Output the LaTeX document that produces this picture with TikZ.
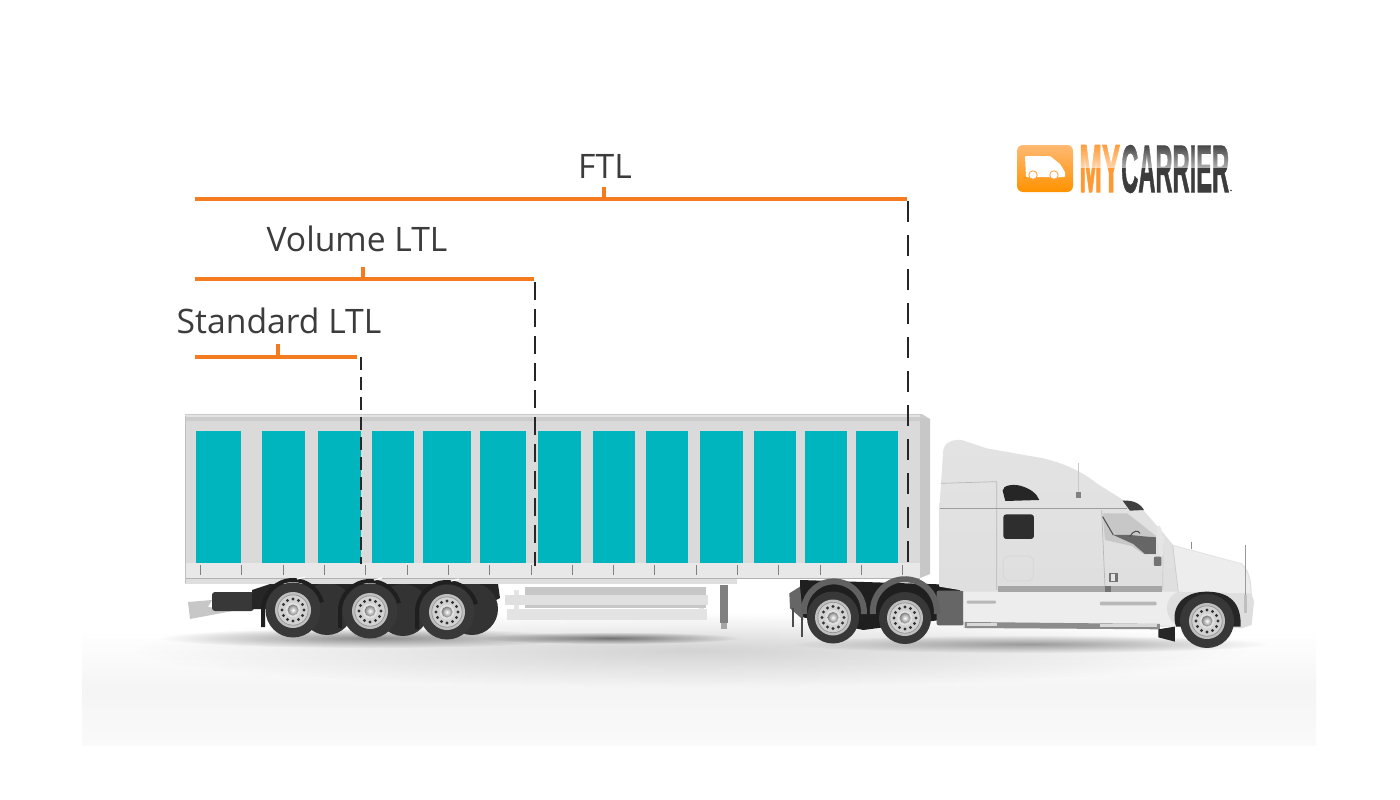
\documentclass[tikz,border=0pt]{standalone}
\usepackage{fontspec}
\usepackage{graphicx}
\setmainfont{Open Sans}
\usetikzlibrary{fadings}
\definecolor{brandorange}{HTML}{F47B20}
\definecolor{panelteal}{HTML}{00B5BD}
\definecolor{labelgrey}{HTML}{3C3C3C}
\definecolor{trailerbody}{HTML}{DADADA}
\tikzfading[name=softfade,inner color=transparent!0,outer color=transparent!100]
\tikzset{
  spanline/.style={draw=brandorange,line width=4pt},
  limitline/.style={draw=black!85,line width=1.7pt},
  spanlabel/.style={text=labelgrey,font=\fontsize{33.7}{36}\selectfont,inner sep=0pt},
  cargopanel/.style={fill=panelteal},
  softshadow/.style={fill=black,path fading=softfade}
}
\newcommand{\cargobox}[2]{\fill[cargopanel] (#1,431) rectangle (#2,563);}
\newcommand{\roadwheel}[3]{%
  \fill[black!78] (#1,#2) circle (#3);
  \fill[black!25] (#1,#2) circle (18);
  \fill[black!45] (#1,#2) circle (15.5);
  \fill[black!18] (#1,#2) circle (14.8);
  \foreach \a in {0,30,...,330}{\fill[black!80] (#1,#2) ++(\a:11) circle (1.7);}
  \fill[black!12] (#1,#2) circle (7.5);
  \shade[inner color=white,outer color=black!50] (#1,#2) circle (5.5);
}
\begin{document}
\begin{tikzpicture}[x=1pt,y=-1pt]
\useasboundingbox (0,0) rectangle (1400,800);
\fill[white] (0,0) rectangle (1400,800);
% floor
\shade[top color=white,bottom color=black!4] (82,630) rectangle (1316,690);
\shade[top color=black!4,bottom color=black!2] (82,690) rectangle (1316,745);
% shadows
\fill[softshadow,opacity=.16] (690,650) ellipse (560 and 38);
\fill[softshadow,opacity=.4] (370,638) ellipse (210 and 10);
\fill[softshadow,opacity=.5] (610,638) ellipse (130 and 6);
\fill[softshadow,opacity=.35] (1030,644) ellipse (240 and 9);
% trailer rear step and chassis
\fill[black!22] (188,602) -- (212,600) -- (208,607) -- (238,610) -- (190,619) -- cycle;
\fill[black!78,rounded corners=3pt] (212,592) rectangle (254,611);
\fill[black!85] (252,590) -- (270,584) -- (498,584) -- (500,598) -- (484,606) -- (270,609) -- (252,609) -- cycle;
\foreach \x/\y in {327/609,403/610,472/609}{\fill[black!80] (\x,\y) circle (26);}
% skirts, leg
\fill[black!10] (514,590) rectangle (519,612);
\fill[black!10] (699,590) rectangle (704,612);
\fill[black!22] (525,587) rectangle (706,595);
\fill[black!12] (505,595) rectangle (708,605);
\fill[black!22] (525,605) rectangle (706,608);
\fill[black!11] (507,609) rectangle (707,620);
\fill[black!50] (720,585) rectangle (728,623);
\fill[black!35] (721,623) rectangle (727,629);
% trailer body
\fill[trailerbody] (185,416) rectangle (920,566);
\fill[black!20] (185,414) -- (922,414) -- (930,419) -- (920,421) -- (185,421) -- cycle;
\fill[black!11] (185,415) rectangle (920,417);
\fill[black!22] (920,418) -- (930,419) -- (930,574) -- (920,578) -- cycle;
\fill[black!9] (185,563) rectangle (920,578);
\fill[black!13] (185,578) rectangle (737,584);
\draw[black!30,line width=.8pt] (185,578) -- (920,578);
\draw[black!25,line width=1pt] (185,416) -- (185,583);
\foreach \n in {0,...,17}{\draw[black!50,line width=1pt] ({200.6+41.3*\n},565) -- ({200.6+41.3*\n},575);}
% cargo
\cargobox{196}{241}\cargobox{262}{305}\cargobox{318}{361}\cargobox{372}{414}
\cargobox{423}{471}\cargobox{480}{526}\cargobox{538}{581}\cargobox{593}{635}
\cargobox{646}{688}\cargobox{700}{743}\cargobox{754}{796}\cargobox{805}{847}
\cargobox{856}{898}
% trailer fenders and wheels
\foreach \x/\y in {293/610,370/611,447/612}{
  \draw[black!88,line width=4pt] (\x-30,\y+17) -- (\x-30,\y) arc[start angle=180,end angle=345,radius=30];
  \draw[white,line width=1.2pt] (\x+4,\y-31) -- (\x+12,\y-33);
}
\roadwheel{293}{610}{27.5}
\roadwheel{370}{611}{27.5}
\roadwheel{447}{612}{27.5}
% tractor
\begin{scope}[shift={(780,420)},x=.3333pt,y=-.3333pt]
  \fill[black!88] (60,480) -- (540,495) -- (540,540) -- (480,600) -- (250,630) -- (60,590) -- cycle;
  \fill[black!60] (28,520) -- (60,500) -- (70,600) -- (30,565) -- cycle;
  \fill[black!60,rounded corners=2pt] (470,512) rectangle (552,616);
  \fill[black!70] (64,590) rectangle (70,650);
  \fill[black!70] (36,565) rectangle (43,620);
  % body
  \shade[top color=black!11,bottom color=black!13]
    (478,500) -- (478,270) -- (483,190) -- (490,90) .. controls (495,65) and (520,58) .. (545,60)
    -- (620,85) -- (790,115) .. controls (850,130) and (900,150) .. (950,190)
    -- (1030,240) -- (1090,270) -- (1150,340) -- (1180,375) -- (1385,430)
    .. controls (1410,450) and (1415,490) .. (1415,520) -- (1422,545) -- (1415,615) -- (1385,625)
    -- (1190,620) -- (550,625) -- (550,512) -- cycle;
  \fill[black!7] (550,515) -- (1195,515) .. controls (1150,530) and (1150,590) .. (1190,618)
     -- (1000,612) -- (550,605) -- cycle;
  \fill[black!7] (1180,378) -- (1385,432) .. controls (1405,455) and (1412,490) .. (1412,520)
     -- (1195,515) -- cycle;
  \draw[black!28,line width=.7pt] (483,190) -- (650,185) -- (650,510);
  \draw[black!38,line width=.7pt] (480,266) -- (1040,266);
  \draw[black!28,line width=.7pt] (965,270) -- (975,500);
  \draw[black!20,line width=.7pt] (1150,340) -- (1148,510);
  \draw[black!20,line width=.7pt] (1178,376) -- (1195,515);
  \draw[black!16,line width=.7pt,rounded corners=6pt] (670,408) rectangle (760,483);
  % windows
  \fill[black!85] (668,212) .. controls (668,195) and (700,192) .. (720,197) .. controls (750,205) and (770,220) .. (778,240) -- (676,243) -- cycle;
  \fill[black!82,rounded corners=3pt] (670,283) rectangle (762,357);
  \fill[black!22] (968,280) -- (1042,280) -- (1128,348) -- (1128,403) -- (1092,403) -- (1055,378) -- (975,360) -- cycle;
  \fill[black!60] (1000,345) -- (1060,372) -- (1095,402) -- (1128,402) -- (1128,352) -- (1100,350) -- (1050,345) -- cycle;
  \draw[black!70,line width=1pt] (968,290) -- (1000,345);
  \draw[black!70,line width=1pt] (1050,350) .. controls (1060,330) and (1075,330) .. (1080,340);
  \fill[black!10] (1128,320) -- (1140,318) -- (1152,350) -- (1150,405) -- (1140,410) -- cycle;
  \fill[black!55,rounded corners=1pt] (1122,410) rectangle (1144,438);
  \fill[black!75] (1028,242) .. controls (1060,240) and (1080,250) .. (1092,270) -- (1050,272) -- cycle;
  \fill[black!50] (888,215) rectangle (902,234);
  \draw[black!22,line width=.5pt] (895,130) -- (895,215);
  \draw[black!40,line width=.8pt] (1397,375) -- (1397,575);
  \draw[black!45,line width=.7pt] (1233,365) -- (1233,388);
  \fill[black!55] (988,458) rectangle (1014,486);
  \fill[black!10] (994,462) rectangle (1006,482);
  % side band and trim
  \fill[black!35] (655,497) rectangle (1145,515);
  \fill[black!55] (975,497) rectangle (993,515);
  \fill[black!28,rounded corners=1pt] (560,542) rectangle (648,551);
  \fill[black!28,rounded corners=1pt] (960,545) rectangle (1130,556);
  \fill[black!45] (555,606) -- (1140,612) -- (1140,628) -- (555,624) -- cycle;
  \fill[black!15] (560,608) rectangle (650,618);
  \fill[black!15] (960,612) rectangle (1130,620);
  \fill[black!85] (1135,628) -- (1185,620) -- (1185,665) -- (1135,652) -- cycle;
  \fill[black!85] (1188,620) .. controls (1170,560) and (1210,515) .. (1280,515) .. controls (1350,515) and (1385,550) .. (1382,620) -- cycle;
  \fill[black!25] (1392,525) rectangle (1402,578);
\end{scope}
% tractor fenders
\draw[black!62,line width=6pt] (804,614) arc[start angle=175,end angle=365,radius=30];
\draw[black!62,line width=6pt] (873,614) arc[start angle=175,end angle=365,radius=32];
\roadwheel{833}{617.5}{26}
\roadwheel{905}{618}{26}
\roadwheel{1207}{621}{27}
% spans
\coordinate (ftlL) at (195,199);
\coordinate (ftlR) at (907,199);
\coordinate (ftlT) at (604,187);
\coordinate (ftlB) at (604,199);
\coordinate (volL) at (195,278.5);
\coordinate (volR) at (534,278.5);
\coordinate (volT) at (363,267);
\coordinate (volB) at (363,278.5);
\coordinate (stdL) at (195,356.5);
\coordinate (stdR) at (357,356.5);
\coordinate (stdT) at (278,344);
\coordinate (stdB) at (278,356.5);
\draw[spanline] (ftlL) -- (ftlR);
\draw[spanline] (ftlT) -- (ftlB);
\draw[spanline] (volL) -- (volR);
\draw[spanline] (volT) -- (volB);
\draw[spanline] (stdL) -- (stdR);
\draw[spanline] (stdT) -- (stdB);
\coordinate (ftlD0) at (908,201);
\coordinate (ftlD1) at (908,566);
\coordinate (volD0) at (535,282);
\coordinate (volD1) at (535,566);
\coordinate (stdD0) at (361,357);
\coordinate (stdD1) at (361,564);
\draw[limitline,dash pattern=on 21pt off 13pt] (ftlD0) -- (ftlD1);
\draw[limitline,dash pattern=on 18pt off 9pt] (volD0) -- (volD1);
\draw[limitline,dash pattern=on 13pt off 7pt] (stdD0) -- (stdD1);
% labels
\node[spanlabel] (ftl) at (605,166) {FTL};
\node[spanlabel] (vol) at (357,239) {Volume LTL};
\node[spanlabel] (std) at (279,321) {Standard LTL};
% logo
\shade[rounded corners=6pt,top color=orange!55!white,bottom color=orange!85!yellow] (1017,145) rectangle (1073,192);
\fill[white,rounded corners=1pt] (1025,156) -- (1050,156) -- (1060,164) -- (1065,172) -- (1065,177) -- (1026,177) -- cycle;
\fill[white,draw=orange!70,line width=.9pt] (1033,175) circle (4.2);
\fill[white,draw=orange!70,line width=.9pt] (1054,175) circle (4.2);
\node[inner sep=0pt,anchor=north west,text=orange!80!white] (logoMy) at (1079,145) {\resizebox{41pt}{47pt}{\fontspec[FakeBold=1.5]{Liberation Sans Bold}MY}};
\node[inner sep=0pt,anchor=north west,text=labelgrey] (logoCa) at (1121,145) {\resizebox{108pt}{47pt}{\fontspec[FakeBold=1.5]{Liberation Sans Bold}CARRIER}};
\fill[white,opacity=.6,path fading=north] (1078,143) rectangle (1231,168);
\fill[labelgrey] (1231,190.5) circle (.8);
\end{tikzpicture}
\end{document}
